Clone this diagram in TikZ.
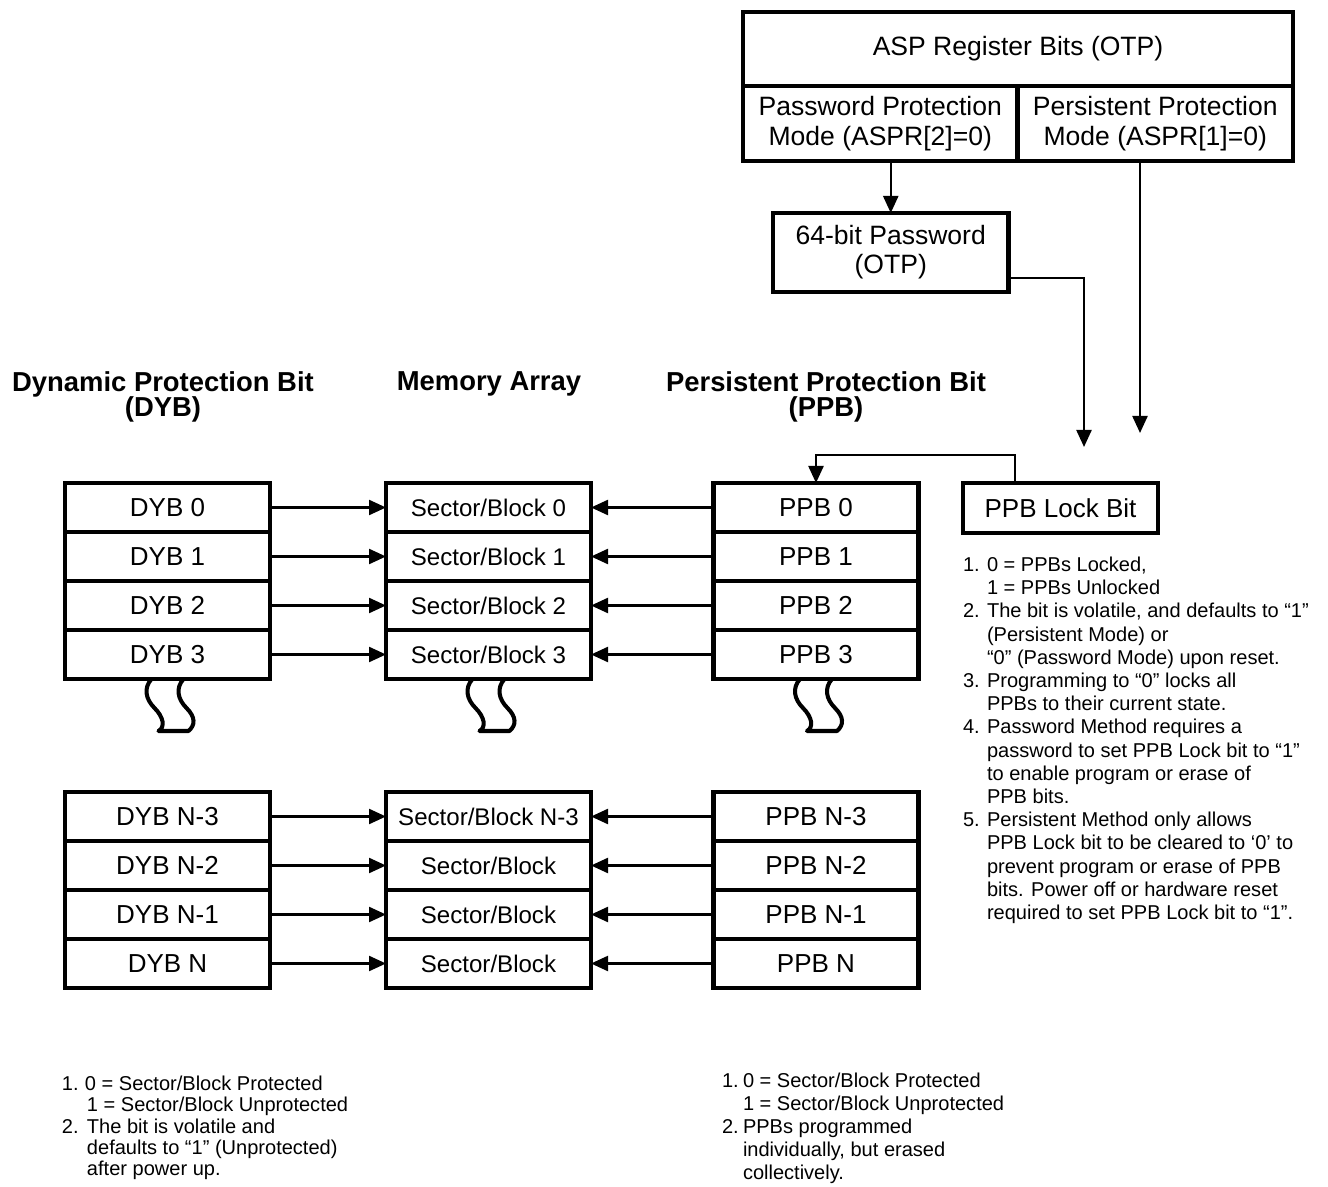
\documentclass[tikz,border=0pt]{standalone}
\usepackage{fontspec}
\setmainfont{Liberation Sans}
\usetikzlibrary{arrows.meta}

\begin{document}
\begin{tikzpicture}[
    x=0.2mm, y=-0.2mm,
    >={Triangle[length=3.4mm,width=3mm]},
    line width=1.3pt,
    every node/.style={font=\fontsize{14.8}{17}\selectfont, inner sep=0pt, outer sep=0pt},
    bitbox/.style={draw, line width=2.5pt, minimum width=41mm, minimum height=9.8mm},
    secbox/.style={bitbox, font=\fontsize{13.7}{16}\selectfont},
    regbox/.style={draw, line width=2.5pt, align=center, font=\fontsize{15.1}{17.1}\selectfont},
    hdr/.style={align=center, font=\bfseries\fontsize{15.6}{14.6}\selectfont},
    note/.style={anchor=north west, align=left},
    brk/.pic={\draw[line width=2.3pt, line join=round]
      (-16,0) .. controls (-24,9) and (-22,20) .. (-13,29)
      .. controls (-4,38) and (-2,48) .. (-9,52) -- (21,52)
      .. controls (28,46) and (28,38) .. (19,29)
      .. controls (10,20) and (8,9) .. (16,0);}
  ]
    \useasboundingbox (0,0) rectangle (1328,1187);

    % ASP register and password
    \node[regbox, minimum width=110mm, minimum height=14.8mm] (asp) at (1018,49) {ASP Register Bits (OTP)};
    \node[regbox, minimum width=54.9mm, minimum height=15mm] (pwd) at (880.25,123.5) {Password Protection\\Mode (ASPR[2]=0)};
    \node[regbox, minimum width=55.1mm, minimum height=15mm] (pers) at (1155.25,123.5) {Persistent Protection\\Mode (ASPR[1]=0)};
    \node[regbox, minimum width=47.1mm, minimum height=15.8mm, font=\fontsize{15.1}{16.5}\selectfont] (pw64) at (890.75,252.5) {64-bit Password\\(OTP)};
    \node[regbox, minimum width=39mm, minimum height=10mm, font=\fontsize{14.8}{17}\selectfont] (lock) at (1060.5,508) {PPB Lock Bit};
    \coordinate (lkA) at (1084,447);
    \coordinate (lkB) at (1140,433);

    % column titles
    \node[hdr] (hdyb) at (163,397) {Dynamic Protection Bit\\(DYB)};
    \node[hdr] (hmem) at (489,384) {Memory Array};
    \node[hdr] (hppb) at (826,397) {Persistent Protection Bit\\(PPB)};

    % first group
    \node[bitbox] (dyb0) at (167.5,507.5) {DYB 0};
    \node[bitbox] (dyb1) at (167.5,556.5) {DYB 1};
    \node[bitbox] (dyb2) at (167.5,605.5) {DYB 2};
    \node[bitbox] (dyb3) at (167.5,654.5) {DYB 3};
    \node[secbox] (mem0) at (488.5,507.5) {Sector/Block 0};
    \node[secbox] (mem1) at (488.5,556.5) {Sector/Block 1};
    \node[secbox] (mem2) at (488.5,605.5) {Sector/Block 2};
    \node[secbox] (mem3) at (488.5,654.5) {Sector/Block 3};
    \node[bitbox] (ppb0) at (816,507.5) {PPB 0};
    \node[bitbox] (ppb1) at (816,556.5) {PPB 1};
    \node[bitbox] (ppb2) at (816,605.5) {PPB 2};
    \node[bitbox] (ppb3) at (816,654.5) {PPB 3};
    \pic at (dyb3.south) {brk};
    \pic at (mem3.south) {brk};
    \pic at (ppb3.south) {brk};

    % last group
    \node[bitbox] (dybN3) at (167.5,816.5) {DYB N-3};
    \node[bitbox] (dybN2) at (167.5,865.5) {DYB N-2};
    \node[bitbox] (dybN1) at (167.5,914.5) {DYB N-1};
    \node[bitbox] (dybN) at (167.5,963.5) {DYB N};
    \node[secbox] (memN3) at (488.5,816.5) {Sector/Block N-3};
    \node[secbox] (memN2) at (488.5,865.5) {Sector/Block};
    \node[secbox] (memN1) at (488.5,914.5) {Sector/Block};
    \node[secbox] (memN) at (488.5,963.5) {Sector/Block};
    \node[bitbox] (ppbN3) at (816,816.5) {PPB N-3};
    \node[bitbox] (ppbN2) at (816,865.5) {PPB N-2};
    \node[bitbox] (ppbN1) at (816,914.5) {PPB N-1};
    \node[bitbox] (ppbN) at (816,963.5) {PPB N};

    \draw[->] (dyb0) -- (mem0);
    \draw[->] (dyb1) -- (mem1);
    \draw[->] (dyb2) -- (mem2);
    \draw[->] (dyb3) -- (mem3);
    \draw[->] (ppb0) -- (mem0);
    \draw[->] (ppb1) -- (mem1);
    \draw[->] (ppb2) -- (mem2);
    \draw[->] (ppb3) -- (mem3);
    \draw[->] (dybN3) -- (memN3);
    \draw[->] (dybN2) -- (memN2);
    \draw[->] (dybN1) -- (memN1);
    \draw[->] (dybN) -- (memN);
    \draw[->] (ppbN3) -- (memN3);
    \draw[->] (ppbN2) -- (memN2);
    \draw[->] (ppbN1) -- (memN1);
    \draw[->] (ppbN) -- (memN);

    \draw[->] (pw64.north |- pwd.south) -- (pw64);
    \draw[->] ([yshift=-5.1mm]pw64.east) -| (lkA);
    \draw[->] (pers.south -| lkB) -- (lkB);
    \draw[->] ([xshift=-9.1mm]lock.north) -- ++(0,-28) -| (ppb0.north);

    % notes
    \node[note, font=\fontsize{11.4}{13.2}\selectfont] (nlock) at (963,557) {%
      \makebox[4.8mm][l]{1.}0 = PPBs Locked,\\
      \hspace*{4.8mm}1 = PPBs Unlocked\\
      \makebox[4.8mm][l]{2.}The bit is volatile, and defaults to “1”\\
      \hspace*{4.8mm}(Persistent Mode) or\\
      \hspace*{4.8mm}“0” (Password Mode) upon reset.\\
      \makebox[4.8mm][l]{3.}Programming to “0” locks all\\
      \hspace*{4.8mm}PPBs to their current state.\\
      \makebox[4.8mm][l]{4.}Password Method requires a\\
      \hspace*{4.8mm}password to set PPB Lock bit to “1”\\
      \hspace*{4.8mm}to enable program or erase of\\
      \hspace*{4.8mm}PPB bits.\\
      \makebox[4.8mm][l]{5.}Persistent Method only allows\\
      \hspace*{4.8mm}PPB Lock bit to be cleared to ‘0’ to\\
      \hspace*{4.8mm}prevent program or erase of PPB\\
      \hspace*{4.8mm}bits. Power off or hardware reset\\
      \hspace*{4.8mm}required to set PPB Lock bit to “1”.};
    \node[note, font=\fontsize{11.4}{12.1}\selectfont] (ndyb) at (62,1076) {%
      \makebox[4.6mm][l]{1.}0 = Sector/Block Protected\\
      \hspace*{5mm}1 = Sector/Block Unprotected\\
      \makebox[5mm][l]{2.}The bit is volatile and\\
      \hspace*{5mm}defaults to “1” (Unprotected)\\
      \hspace*{5mm}after power up.};
    \node[note, font=\fontsize{11.4}{13.1}\selectfont] (nppb) at (722,1073) {%
      \makebox[4.2mm][l]{1.}0 = Sector/Block Protected\\
      \hspace*{4.2mm}1 = Sector/Block Unprotected\\
      \makebox[4.2mm][l]{2.}PPBs programmed\\
      \hspace*{4.2mm}individually, but erased\\
      \hspace*{4.2mm}collectively.};
  \end{tikzpicture}
\end{document}
